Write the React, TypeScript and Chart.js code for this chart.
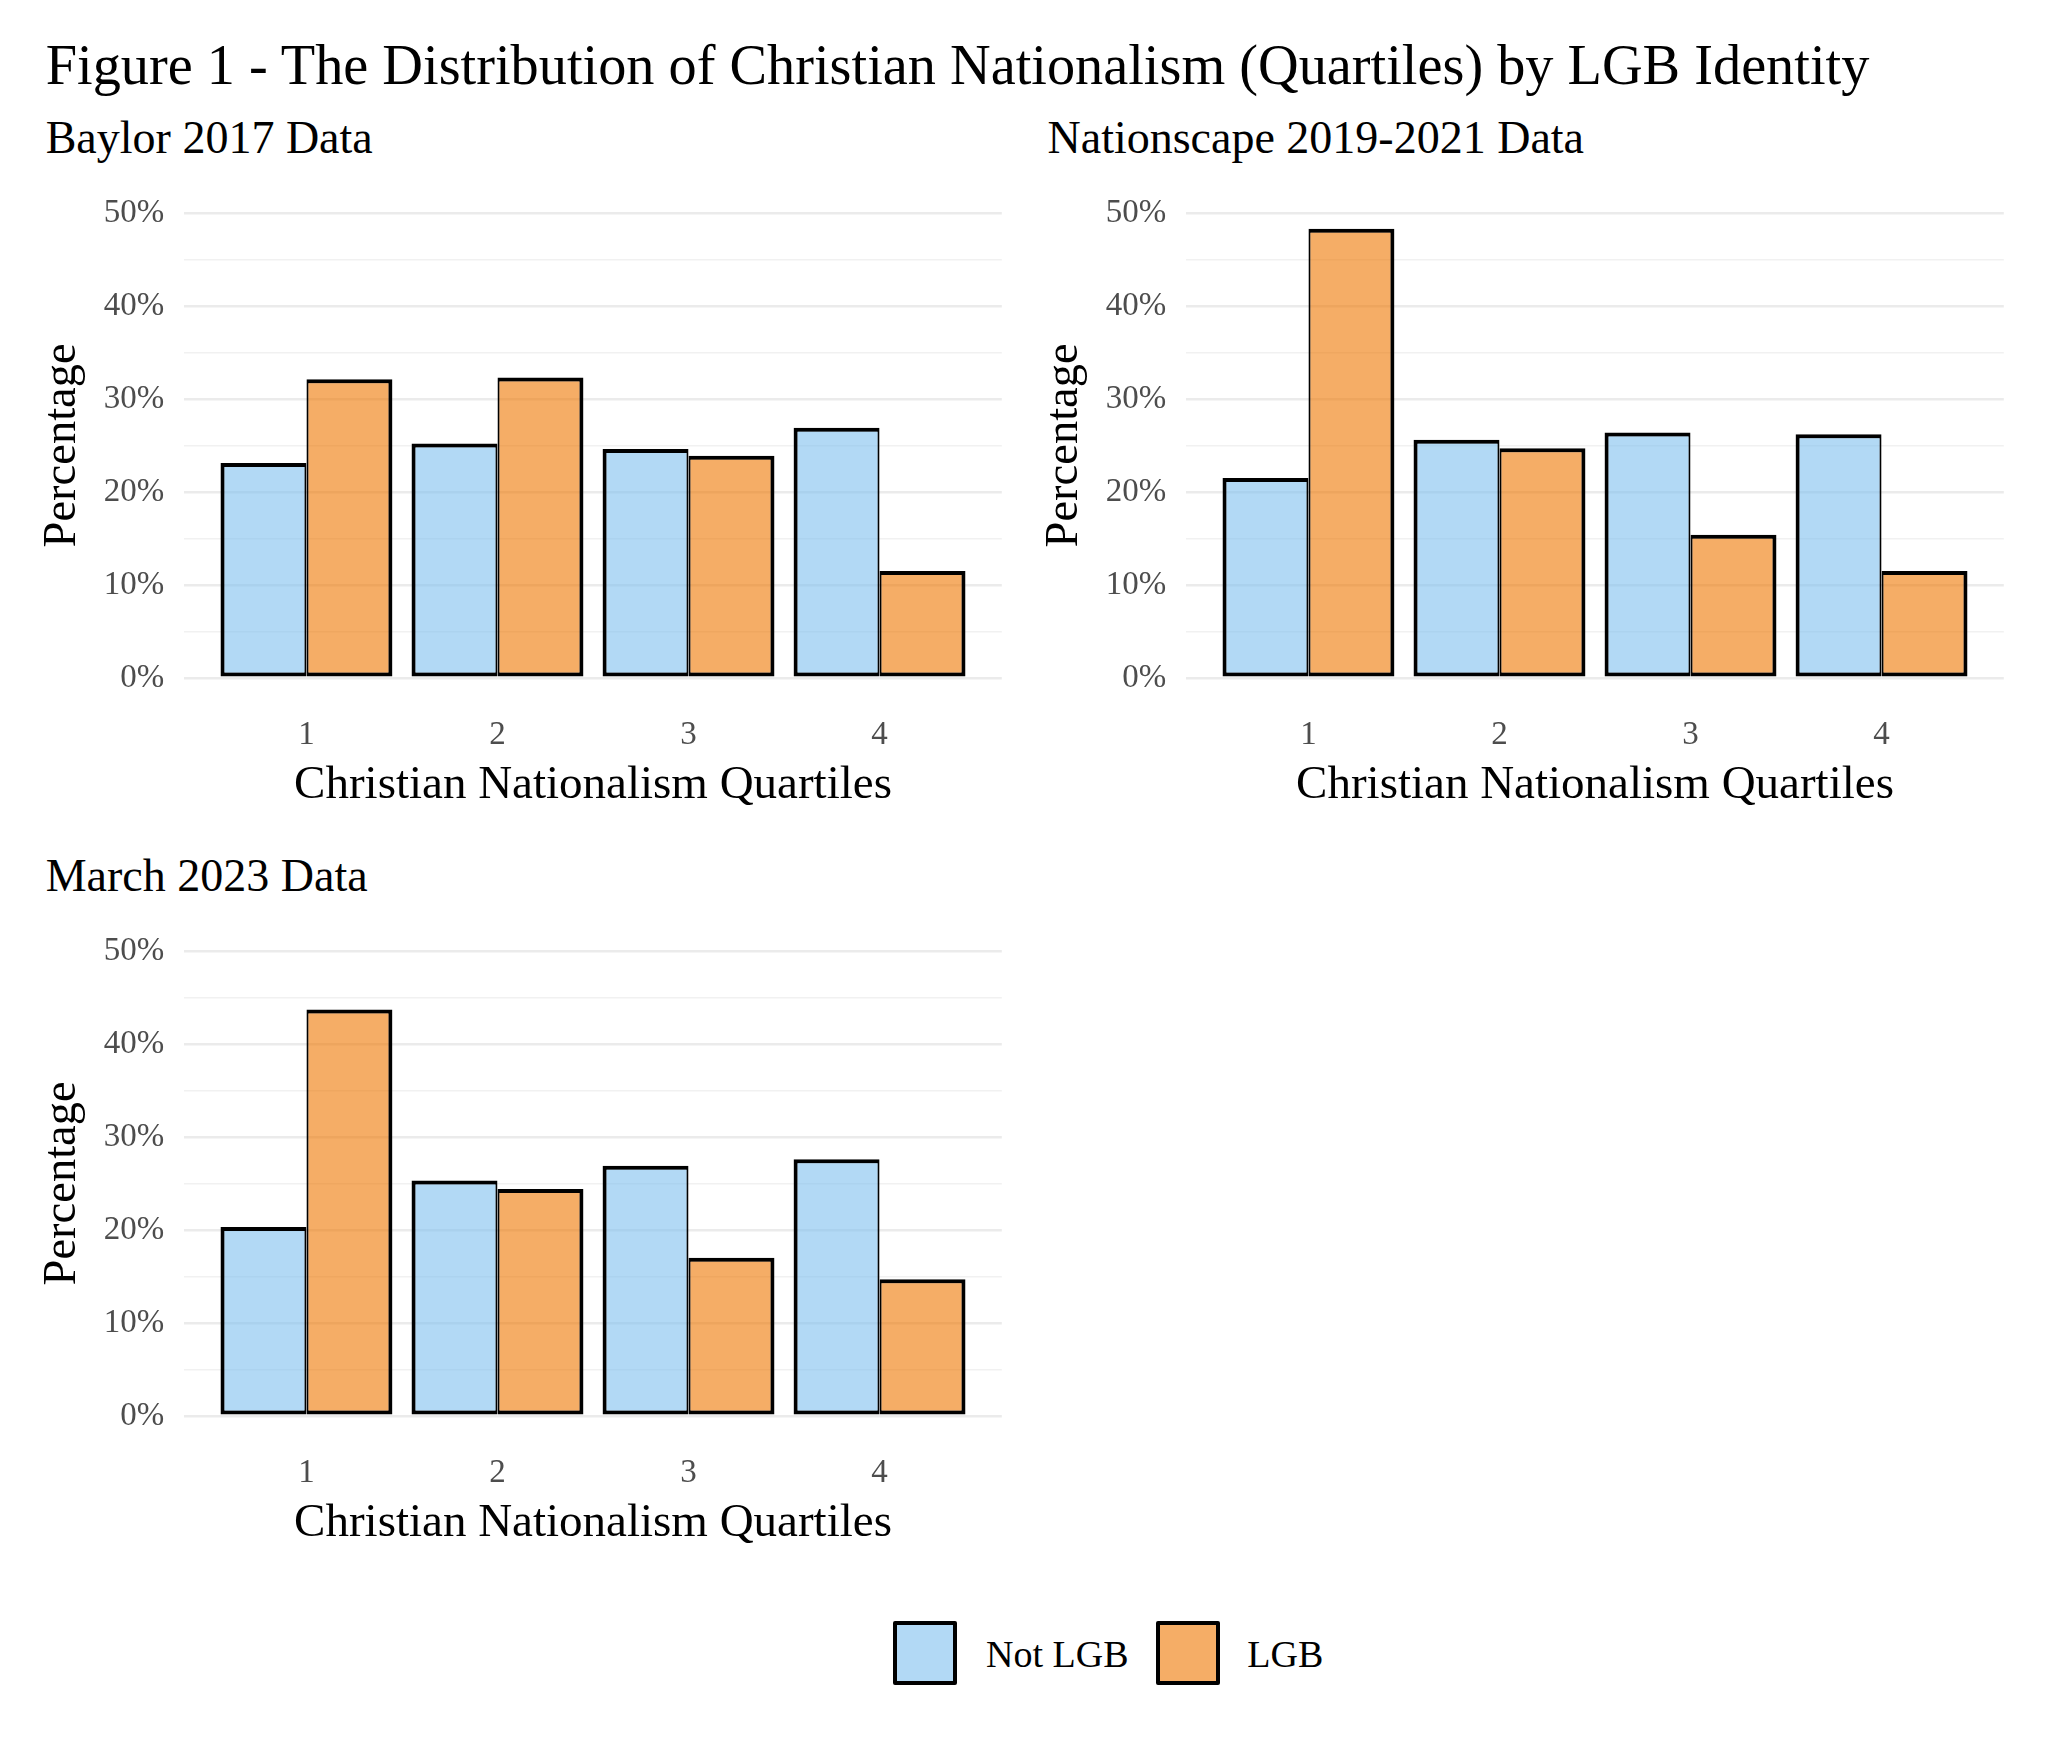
import React, { useEffect, useRef } from 'react';
import { Chart, registerables } from 'chart.js';

Chart.register(...registerables);

// ---- Data ----
const quartiles = [1, 2, 3, 4];
const seriesNames = ['Not LGB', 'LGB'];
const yTickValues = [0, 10, 20, 30, 40, 50];

const baylorNotLGB = [23.1, 25.2, 24.6, 26.9];
const baylorLGB = [32.1, 32.3, 23.9, 11.5];

const nationscapeNotLGB = [21.5, 25.6, 26.4, 26.2];
const nationscapeLGB = [48.3, 24.7, 15.4, 11.5];

const march2023NotLGB = [20.3, 25.3, 26.9, 27.6];
const march2023LGB = [43.7, 24.4, 17.0, 14.7];

const figureTitle = 'Figure 1 - The Distribution of Christian Nationalism (Quartiles) by LGB Identity';
const panelTitles = ['Baylor 2017 Data', 'Nationscape 2019-2021 Data', 'March 2023 Data'];
const xAxisTitle = 'Christian Nationalism Quartiles';
const yAxisTitle = 'Percentage';

// ---- Styles ----
const FONT = '"Liberation Serif", "Times New Roman", serif';
const BLUE = 'rgba(126, 192, 238, 0.6)';
const ORANGE = 'rgba(238, 118, 0, 0.6)';
const TICK_COLOR = '#4D4D4D';

type PanelProps = { notLGB: number[]; lgb: number[]; left: number; top: number };

function Panel({ notLGB, lgb, left, top }: PanelProps) {
  const ref = useRef<HTMLCanvasElement>(null);
  useEffect(() => {
    const chart = new Chart(ref.current as HTMLCanvasElement, {
      type: 'bar',
      data: {
        datasets: [
          {
            label: seriesNames[0],
            data: quartiles.map((q, i) => ({ x: q, y: notLGB[i] })),
            backgroundColor: BLUE,
            borderColor: '#000000',
            borderWidth: { top: 4, left: 4, bottom: 4, right: 2 },
            borderSkipped: false,
          },
          {
            label: seriesNames[1],
            data: quartiles.map((q, i) => ({ x: q, y: lgb[i] })),
            backgroundColor: ORANGE,
            borderColor: '#000000',
            borderWidth: { top: 4, left: 2, bottom: 4, right: 4 },
            borderSkipped: false,
          },
        ],
      } as any,
      options: {
        animation: false,
        responsive: false,
        layout: { padding: { top: 42.9, right: 22.2, left: 0, bottom: 0 } },
        datasets: { bar: { categoryPercentage: 0.9, barPercentage: 1 } } as any,
        plugins: { legend: { display: false }, tooltip: { enabled: false } },
        scales: {
          x: {
            type: 'linear',
            min: 0.36,
            max: 4.64,
            offset: false,
            grid: { display: false, drawTicks: false },
            border: { display: false },
            afterBuildTicks: (s: any) => {
              s.ticks = quartiles.map((v) => ({ value: v }));
            },
            afterFit: (s: any) => {
              s.height = 162.1;
            },
            ticks: {
              autoSkip: false,
              maxRotation: 0,
              font: { family: FONT, size: 33 },
              color: TICK_COLOR,
              padding: 37.6,
              callback: (v: any) => String(v),
            },
            title: {
              display: true,
              text: xAxisTitle,
              font: { family: FONT, size: 47 },
              color: '#000000',
              padding: { top: 0, bottom: 26 },
            },
          },
          y: {
            min: 0,
            max: 50,
            grid: {
              drawTicks: false,
              color: (ctx: any) => (ctx.tick && ctx.tick.value % 10 === 0 ? '#EBEBEB' : '#F1F1F1'),
              lineWidth: (ctx: any) => (ctx.tick && ctx.tick.value % 10 === 0 ? 2.6 : 1.4),
            },
            border: { display: false },
            afterFit: (s: any) => {
              s.width = 184.2;
            },
            ticks: {
              stepSize: 5,
              autoSkip: false,
              font: { family: FONT, size: 33 },
              color: TICK_COLOR,
              padding: 20,
              callback: (v: any) => (yTickValues.includes(Number(v)) ? `${v}%` : ''),
            },
            title: {
              display: true,
              text: yAxisTitle,
              font: { family: FONT, size: 46.5 },
              color: '#000000',
              padding: { top: 35, bottom: 0 },
            },
          },
        },
      } as any,
    });
    return () => chart.destroy();
  }, [notLGB, lgb]);
  return (
    <canvas
      ref={ref}
      width={1024}
      height={670}
      style={{ position: 'absolute', left, top, width: 1024, height: 670 }}
    />
  );
}

const textStyle = (size: number, left: number, centerY: number): React.CSSProperties => ({
  position: 'absolute',
  left,
  top: centerY - size / 2,
  fontFamily: FONT,
  fontSize: size,
  lineHeight: `${size}px`,
  color: '#000000',
  whiteSpace: 'nowrap',
});

export default function App() {
  return (
    <div style={{ position: 'absolute', left: 0, top: 0, width: 2048, height: 1755, background: '#ffffff', overflow: 'hidden' }}>
      <div style={textStyle(56.3, 45.7, 65.3)}>{figureTitle}</div>
      <div style={textStyle(46, 45.7, 138)}>{panelTitles[0]}</div>
      <div style={textStyle(46, 1047.5, 138)}>{panelTitles[1]}</div>
      <div style={textStyle(46, 45.7, 876)}>{panelTitles[2]}</div>

      <Panel notLGB={baylorNotLGB} lgb={baylorLGB} left={0} top={170} />
      <Panel notLGB={nationscapeNotLGB} lgb={nationscapeLGB} left={1001.8} top={170} />
      <Panel notLGB={march2023NotLGB} lgb={march2023LGB} left={0} top={907.7} />

      <div
        style={{
          position: 'absolute', left: 893, top: 1621, width: 64, height: 64, boxSizing: 'border-box',
          border: '4px solid #000', borderRadius: 2, background: BLUE,
        }}
      />
      <div style={textStyle(38, 986, 1653.5)}>{seriesNames[0]}</div>
      <div
        style={{
          position: 'absolute', left: 1156, top: 1621, width: 64, height: 64, boxSizing: 'border-box',
          border: '4px solid #000', borderRadius: 2, background: ORANGE,
        }}
      />
      <div style={textStyle(38, 1247.3, 1653.5)}>{seriesNames[1]}</div>
    </div>
  );
}
